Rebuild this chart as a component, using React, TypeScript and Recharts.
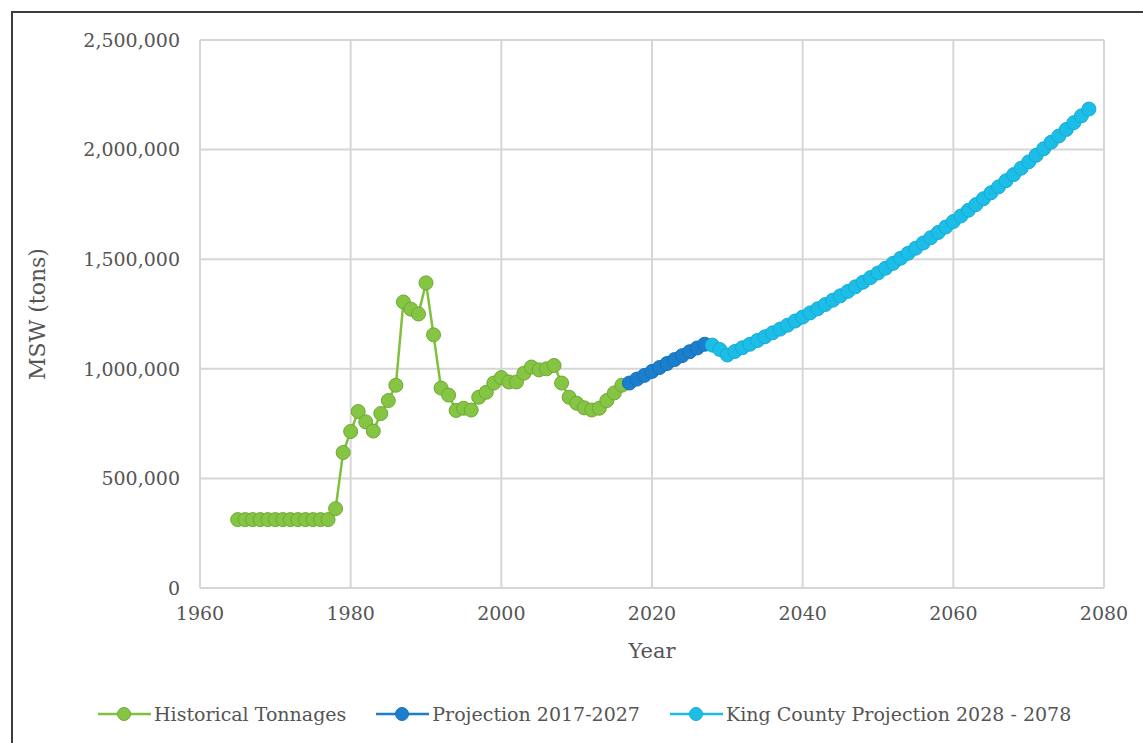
import { CartesianGrid, Line, LineChart, XAxis, YAxis } from 'recharts'

// annual MSW tonnage, values in thousands of tons
const historicalStart = 1965
const historicalK = [
  312, 312, 312, 312, 312, 312, 312, 312, 312, 312, 312, 312, 312,
  362, 618, 714, 805, 758, 716, 796, 855, 925,
  1305, 1272, 1250, 1392, 1155, 912, 880, 810, 820, 812,
  870, 893, 935, 960, 940, 940, 980, 1008, 995, 1000, 1015,
  935, 870, 843, 822, 812, 820, 855, 890, 925,
]

const projectionStart = 2017
const projectionK = [935, 953, 970, 988, 1006, 1024, 1042, 1060, 1078, 1095, 1112]

const kingCountyStart = 2028
const kingCountyK = [
  1108, 1088, 1063,
  1079, 1096, 1112, 1129, 1146, 1164, 1181, 1199, 1218, 1236,
  1255, 1274, 1293, 1313, 1333, 1353, 1374, 1395, 1416, 1437,
  1459, 1481, 1504, 1527, 1550, 1574, 1598, 1622, 1647, 1672,
  1697, 1723, 1749, 1776, 1803, 1830, 1858, 1886, 1915, 1944,
  1974, 2004, 2034, 2062, 2092, 2123, 2154, 2185,
]

const yearTicks = [1960, 1980, 2000, 2020, 2040, 2060, 2080]
const tonTicks = [0, 500000, 1000000, 1500000, 2000000, 2500000]

const toPoints = (start: number, values: number[]) =>
  values.map((k, i) => ({ year: start + i, tons: k * 1000 }))

const series = [
  { name: 'Historical Tonnages', data: toPoints(historicalStart, historicalK), line: '#7fc03c', fill: '#86c544', edge: '#6ca933' },
  { name: 'Projection 2017-2027', data: toPoints(projectionStart, projectionK), line: '#1d7fcc', fill: '#1c7fcd', edge: '#1670b8' },
  { name: 'King County Projection 2028 - 2078', data: toPoints(kingCountyStart, kingCountyK), line: '#1bbce4', fill: '#1cbde6', edge: '#15acd3' },
]

const FONT = '"DejaVu Serif", serif'
const TEXT = '#555555'
const tickStyle = { fill: TEXT, fontSize: 19, fontFamily: FONT }

function LegendIcon({ line, fill, edge }: { line: string; fill: string; edge: string }) {
  return (
    <svg width={53} height={16} style={{ display: 'block' }}>
      <line x1={0} y1={8} x2={53} y2={8} stroke={line} strokeWidth={2.5} />
      <circle cx={26} cy={8} r={6.5} fill={fill} stroke={edge} strokeWidth={1} />
    </svg>
  )
}

export default function App() {
  return (
    <div style={{ position: 'absolute', left: 0, top: 0, width: 1143, height: 743, overflow: 'hidden', background: '#fff', fontFamily: FONT }}>
      <div style={{ position: 'absolute', left: 11, top: 11, width: 1200, height: 800, borderLeft: '2px solid #3c3c3c', borderTop: '2px solid #3c3c3c' }} />
      <div style={{ position: 'absolute', left: 0, top: 0 }}>
        <LineChart width={1143} height={743} margin={{ top: 40, right: 39, bottom: 125, left: 0 }}>
          <CartesianGrid stroke="#d6d6d6" strokeWidth={2} />
          <XAxis
            type="number"
            dataKey="year"
            domain={[1960, 2080]}
            ticks={yearTicks}
            axisLine={false}
            tickLine={false}
            tickSize={0}
            tickMargin={19}
            tick={tickStyle}
            allowDuplicatedCategory={false}
          />
          <YAxis
            dataKey="tons"
            domain={[0, 2500000]}
            ticks={tonTicks}
            width={200}
            axisLine={false}
            tickLine={false}
            tickSize={0}
            tickMargin={20}
            tick={tickStyle}
            tickFormatter={(v: number) => v.toLocaleString('en-US')}
          />
          {series.map((s) => (
            <Line
              key={s.name}
              name={s.name}
              data={s.data}
              dataKey="tons"
              type="linear"
              stroke={s.line}
              strokeWidth={2.5}
              dot={{ r: 7, fill: s.fill, stroke: s.edge, strokeWidth: 1 }}
              activeDot={false}
              isAnimationActive={false}
            />
          ))}
        </LineChart>
      </div>
      <div style={{ position: 'absolute', left: 37, top: 314, transform: 'translate(-50%, -50%) rotate(-90deg)', color: TEXT, fontSize: 22, whiteSpace: 'nowrap' }}>
        MSW (tons)
      </div>
      <div style={{ position: 'absolute', left: 652, top: 651, transform: 'translate(-50%, -50%)', color: TEXT, fontSize: 21 }}>
        Year
      </div>
      <div style={{ position: 'absolute', left: 98, top: 714, transform: 'translateY(-50%)', display: 'flex', alignItems: 'center', gap: 30, color: TEXT, fontSize: 19, whiteSpace: 'nowrap' }}>
        {series.map((s) => (
          <div key={s.name} style={{ display: 'flex', alignItems: 'center', gap: 3 }}>
            <LegendIcon line={s.line} fill={s.fill} edge={s.edge} />
            <span>{s.name}</span>
          </div>
        ))}
      </div>
    </div>
  )
}
